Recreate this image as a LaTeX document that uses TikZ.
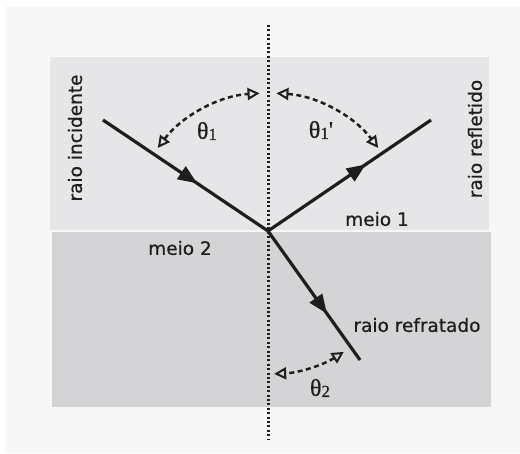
\documentclass[tikz,border=0pt]{standalone}
\usepackage{fontspec}
\setmainfont{DejaVu Sans}
\newfontfamily\lblfont[FakeBold=0.7]{DejaVu Sans}
\newfontfamily\thetafont[FakeBold=0.5]{Liberation Serif}
\usetikzlibrary{arrows.meta,decorations.markings}
\definecolor{bgc}{HTML}{F7F7F7}
\definecolor{upc}{HTML}{E6E6E8}
\definecolor{loc}{HTML}{D4D4D6}
\definecolor{ink}{HTML}{1E1E1E}
\tikzset{
  ray/.style={line width=3.2pt, draw=ink,
    postaction={decorate, decoration={markings,
      mark=at position #1 with {\arrow{Triangle[length=19pt,width=15pt]}}}}},
  anglearc/.style={line width=2.5pt, draw=ink, dash pattern=on 5pt off 3.5pt,
    {Triangle[open,length=12pt,width=12pt,line width=2pt]}-{Triangle[open,length=12pt,width=12pt,line width=2pt]}},
  normalline/.style={line width=3pt, draw=ink, dash pattern=on 2pt off 2.4pt},
  lbl/.style={font=\lblfont\fontsize{18.5}{21}\selectfont, text=ink, inner sep=0pt},
  thlbl/.style={font=\thetafont\fontsize{24}{26}\selectfont, text=ink, inner sep=0pt}
}
\newcommand{\thsub}[1]{θ\raisebox{-0.05em}{\fontsize{17}{18}\selectfont #1}}
\begin{document}
\begin{tikzpicture}[x=1pt,y=1pt]
  \fill[white] (0,0) rectangle (520,453);
  \fill[bgc] (6,0) rectangle (520,447);
  \useasboundingbox (0,0) rectangle (520,453);
  \fill[upc] (50,396) rectangle (489,223);
  \fill[loc] (52,221) rectangle (491,46);
  \coordinate (Ntop) at (268,428);
  \coordinate (Nbot) at (268,13);
  \draw[normalline] (Ntop) -- (Nbot);
  \coordinate (O) at (268,222);
  \coordinate (A) at (103,333);
  \coordinate (B) at (431,333);
  \coordinate (C) at (360,93);
  \draw[ray=0.57] (A) -- (O);
  \draw[ray=0.6] (O) -- (B);
  \draw[ray=0.64] (O) -- (C);
  \draw[anglearc] (O) ++(143:138) arc[start angle=143, end angle=93.5, radius=138];
  \draw[anglearc] (O) ++(86.5:138) arc[start angle=86.5, end angle=37, radius=138];
  \draw[anglearc] (268,220) ++(-57.5:141) arc[start angle=-57.5, end angle=-87.5, radius=141];
  \node[thlbl] (t1) at (207,322) {\thsub{1}};
  \node[thlbl] (t1p) at (321,323) {\thsub{1}'};
  \node[thlbl] (t2) at (320,65) {\thsub{2}};
  \node[lbl] (m1) at (377,234) {meio 1};
  \node[lbl] (m2) at (180,205) {meio 2};
  \node[lbl] (rr) at (417,128) {raio refratado};
  \node[lbl, rotate=90] (ri) at (75,315) {raio incidente};
  \node[lbl, rotate=90] (rf) at (475,314) {raio refletido};
\end{tikzpicture}
\end{document}
